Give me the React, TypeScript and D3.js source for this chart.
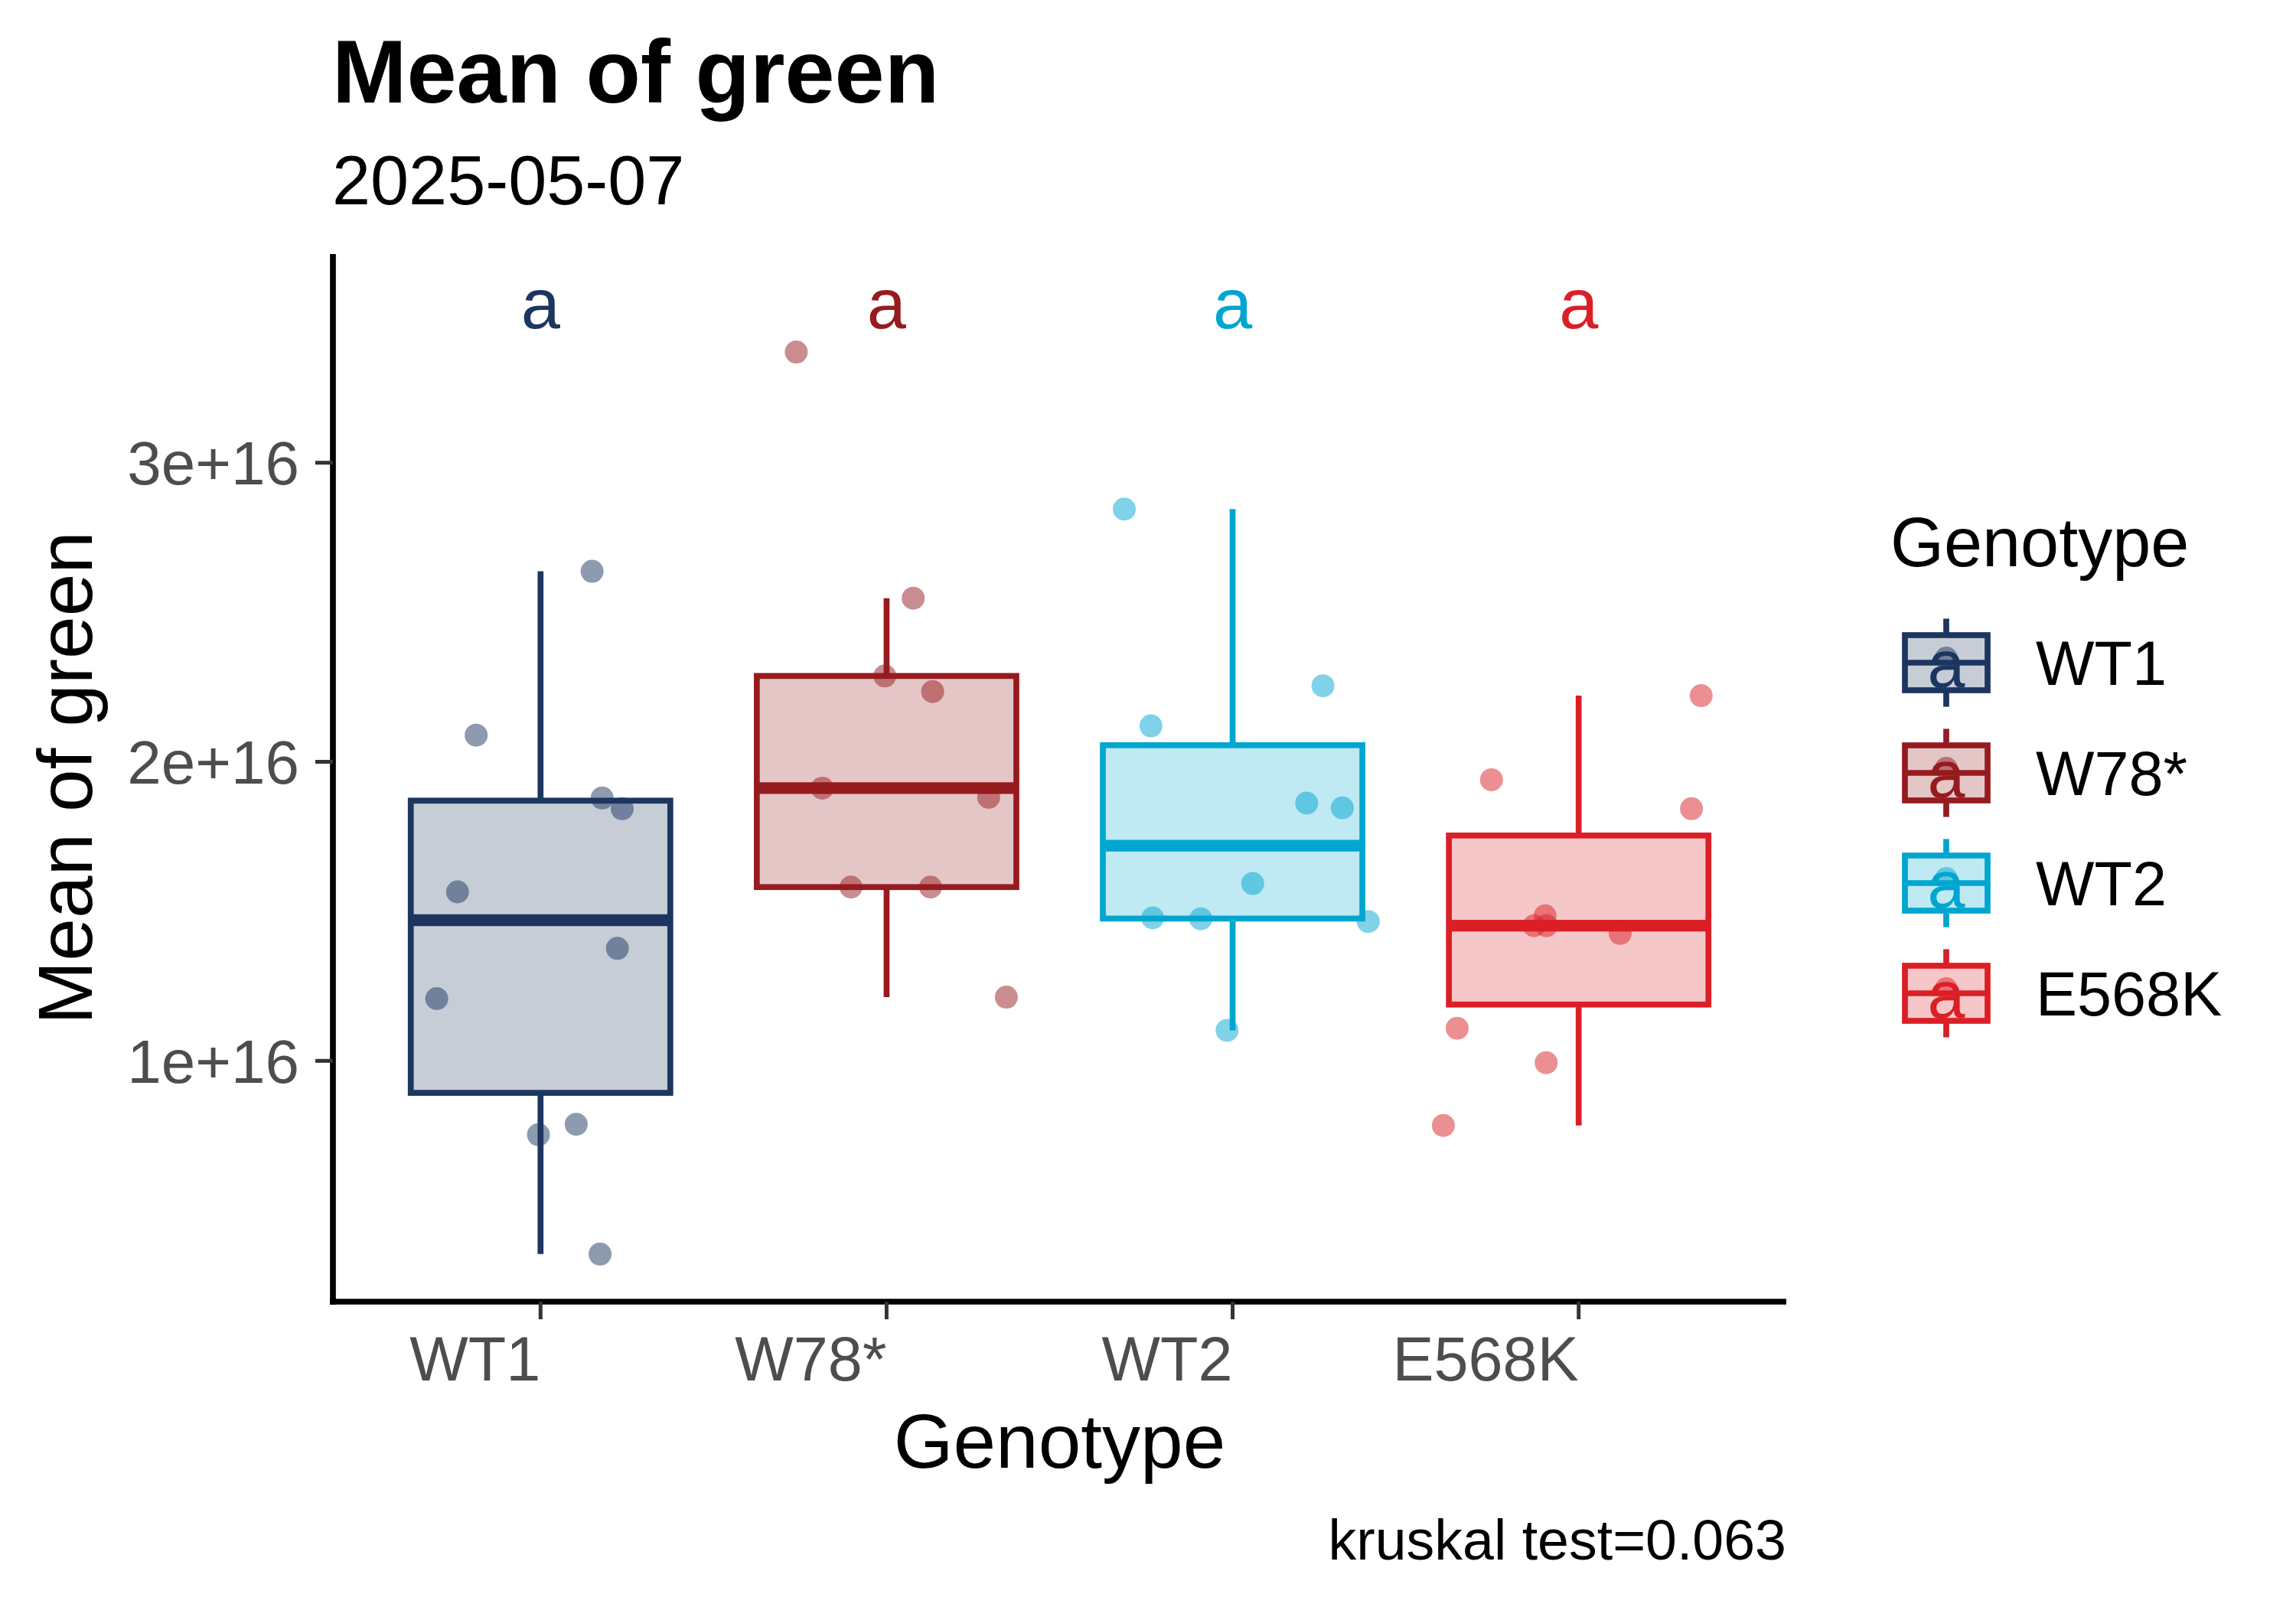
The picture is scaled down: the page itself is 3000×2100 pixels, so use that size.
import * as d3 from 'd3';

// values are in units of 1e16
const categories = ['WT1', 'W78*', 'WT2', 'E568K'];
const colors = ['#1C3660', '#961B1F', '#00A6CF', '#DA1F26'];
const letters = ['a', 'a', 'a', 'a'];

const wt1Values = [2.637, 2.089, 1.879, 1.843, 1.565, 1.376, 1.208, 0.788, 0.753, 0.354];
const w78Values = [3.37, 2.547, 2.287, 2.235, 1.912, 1.881, 1.581, 1.581, 1.213];
const wt2Values = [2.845, 2.254, 2.12, 1.862, 1.846, 1.593, 1.478, 1.475, 1.466, 1.102];
const e568kValues = [2.221, 1.94, 1.843, 1.485, 1.452, 1.452, 1.426, 1.109, 0.994, 0.784];

// horizontal jitter of each point, in category units
const wt1Jitter = [0.149, -0.186, 0.178, 0.236, -0.24, 0.222, -0.3, 0.103, -0.006, 0.172];
const w78Jitter = [-0.261, 0.077, -0.005, 0.133, -0.186, 0.295, -0.103, 0.127, 0.346];
const wt2Jitter = [-0.313, 0.261, -0.236, 0.214, 0.317, 0.058, -0.231, -0.092, 0.392, -0.016];
const e568kJitter = [0.354, -0.252, 0.326, -0.097, -0.129, -0.093, 0.12, -0.351, -0.094, -0.391];

const yTicks = [1, 2, 3];
const yTickLabels = ['1e+16', '2e+16', '3e+16'];
const caption = 'kruskal test=0.063';

const groups = [wt1Values, w78Values, wt2Values, e568kValues];
const jitters = [wt1Jitter, w78Jitter, wt2Jitter, e568kJitter];

const W = 3000;
const H = 2100;
const panel = { left: 435, right: 2334, top: 332, bottom: 1701 };
const font = 'Liberation Sans, Arial, sans-serif';

function boxStats(values: number[]) {
  const s = [...values].sort(d3.ascending);
  const q1 = d3.quantile(s, 0.25)!;
  const med = d3.quantile(s, 0.5)!;
  const q3 = d3.quantile(s, 0.75)!;
  const iqr = q3 - q1;
  const lo = d3.min(s.filter(v => v >= q1 - 1.5 * iqr))!;
  const hi = d3.max(s.filter(v => v <= q3 + 1.5 * iqr))!;
  return { q1, med, q3, lo, hi };
}

export default function App() {
  const allValues = groups.flat();
  const letterY = d3.max(allValues)! * 1.05;
  const yMin = d3.min(allValues)!;
  const pad = (letterY - yMin) * 0.05;

  const y = d3.scaleLinear()
    .domain([yMin - pad, letterY + pad])
    .range([panel.bottom, panel.top]);

  const x = d3.scalePoint<string>()
    .domain(categories)
    .range([panel.left, panel.right])
    .padding(0.6);
  const step = x.step();
  const boxW = step * 0.75;

  const lw = 7.7;
  const keySize = 144;
  const keyX = 2543;
  const keyY0 = 866;
  const keyGap = 144;

  return (
    <svg width={W} height={H} style={{ position: 'absolute', left: 0, top: 0, background: '#fff' }}
      fontFamily={font}>
      <rect width={W} height={H} fill="#fff" />

      {/* titles */}
      <text x={434} y={134} fontSize={117} fontWeight="bold" fill="#000">Mean of green</text>
      <text x={434} y={267} fontSize={90} fill="#000">2025-05-07</text>

      {/* boxes */}
      {groups.map((vals, i) => {
        const st = boxStats(vals);
        const cx = x(categories[i])!;
        const c = colors[i];
        return (
          <g key={'box' + i}>
            <line x1={cx} x2={cx} y1={y(st.q3)} y2={y(st.hi)} stroke={c} strokeWidth={lw} />
            <line x1={cx} x2={cx} y1={y(st.q1)} y2={y(st.lo)} stroke={c} strokeWidth={lw} />
            <rect x={cx - boxW / 2} y={y(st.q3)} width={boxW} height={y(st.q1) - y(st.q3)}
              fill={c} fillOpacity={0.25} stroke={c} strokeWidth={lw} />
            <line x1={cx - boxW / 2} x2={cx + boxW / 2} y1={y(st.med)} y2={y(st.med)}
              stroke={c} strokeWidth={lw * 2} />
          </g>
        );
      })}

      {/* jittered points */}
      {groups.map((vals, i) => vals.map((v, j) => (
        <circle key={`p${i}-${j}`} cx={x(categories[i])! + jitters[i][j] * step} cy={y(v)} r={15}
          fill={colors[i]} fillOpacity={0.5} />
      )))}

      {/* group letters */}
      {categories.map((cat, i) => (
        <text key={'l' + cat} x={x(cat)} y={y(letterY)} dy="0.38em" textAnchor="middle"
          fontSize={92} fill={colors[i]}>{letters[i]}</text>
      ))}

      {/* axes */}
      <line x1={panel.left} x2={panel.left} y1={panel.top} y2={panel.bottom + lw / 2}
        stroke="#000" strokeWidth={lw} />
      <line x1={panel.left - lw / 2} x2={panel.right} y1={panel.bottom} y2={panel.bottom}
        stroke="#000" strokeWidth={lw} />
      {yTicks.map((t, i) => (
        <g key={'yt' + t}>
          <line x1={panel.left - 23} x2={panel.left} y1={y(t)} y2={y(t)} stroke="#333" strokeWidth={5} />
          <text x={391} y={y(t)} dy="0.36em" textAnchor="end" fontSize={80} fill="#4D4D4D">
            {yTickLabels[i]}
          </text>
        </g>
      ))}
      {categories.map(cat => (
        <g key={'xt' + cat}>
          <line x1={x(cat)} x2={x(cat)} y1={panel.bottom} y2={panel.bottom + 23} stroke="#333" strokeWidth={5} />
          <text x={x(cat)} y={1804} textAnchor="end" fontSize={81} fill="#4D4D4D">{cat}</text>
        </g>
      ))}
      <text x={(panel.left + panel.right) / 2} y={1918} textAnchor="middle" fontSize={100} fill="#000">
        Genotype
      </text>
      <text transform={`translate(120, ${(panel.top + panel.bottom) / 2}) rotate(-90)`} textAnchor="middle"
        fontSize={100} fill="#000">Mean of green</text>

      {/* caption */}
      <text x={panel.right} y={2038} textAnchor="end" fontSize={73.5} fill="#000">{caption}</text>

      {/* legend */}
      <text x={2470} y={740} fontSize={90} fill="#000">Genotype</text>
      {categories.map((cat, i) => {
        const cy = keyY0 + i * keyGap;
        const c = colors[i];
        const k = keySize;
        return (
          <g key={'lg' + cat}>
            <line x1={keyX} x2={keyX} y1={cy - 0.4 * k} y2={cy - 0.25 * k} stroke={c} strokeWidth={lw} />
            <line x1={keyX} x2={keyX} y1={cy + 0.25 * k} y2={cy + 0.4 * k} stroke={c} strokeWidth={lw} />
            <rect x={keyX - 0.375 * k} y={cy - 0.25 * k} width={0.75 * k} height={0.5 * k}
              fill={c} fillOpacity={0.25} stroke={c} strokeWidth={lw} />
            <line x1={keyX - 0.375 * k} x2={keyX + 0.375 * k} y1={cy} y2={cy} stroke={c} strokeWidth={lw} />
            <circle cx={keyX} cy={cy - 6} r={15} fill={c} fillOpacity={0.5} />
            <text x={keyX} y={cy} dy="0.36em" textAnchor="middle" fontSize={88} fill={c}>{letters[i]}</text>
            <text x={2660} y={cy} dy="0.36em" fontSize={81} fill="#000">{cat}</text>
          </g>
        );
      })}
    </svg>
  );
}
